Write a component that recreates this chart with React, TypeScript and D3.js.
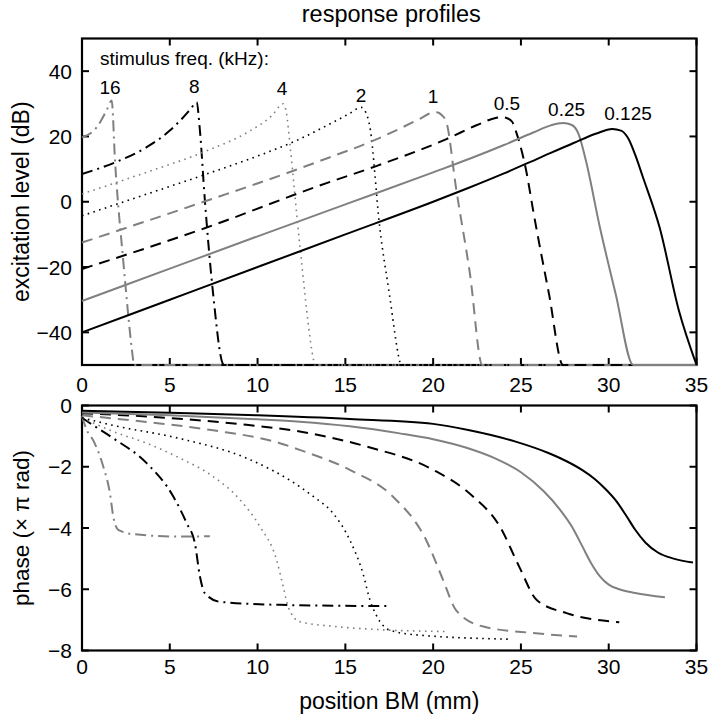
import React from "react";
import * as d3 from "d3";

// ---------- data ----------
const freqLabels = ["16", "8", "4", "2", "1", "0.5", "0.25", "0.125"];
const seriesColor = ["gray", "black", "gray", "black", "gray", "black", "gray", "black"];
const seriesStyle = ["dashdot", "dashdot", "dotted", "dotted", "dashed", "dashed", "solid", "solid"];

// excitation level (dB) vs position (mm)
const exc16: [number, number][] = [[0, 19.7], [0.84, 22.8], [1.4, 28], [1.69, 31], [1.88, 12.6], [2.35, -18.1], [2.92, -48.8], [2.95, -50], [35, -50]];
const exc8: [number, number][] = [[0, 8.5], [2, 12.3], [3.68, 16.7], [5.0, 21.8], [5.58, 24.8], [6.2, 28.5], [6.53, 30.5], [6.7, 22.8], [7.0, 0.3], [7.47, -28.3], [8.04, -49.8], [8.1, -50], [35, -50]];
const exc4: [number, number][] = [[0, 2.4], [3.5, 8.7], [7.1, 15.6], [9.5, 21.5], [10.8, 26.3], [11.46, 30.0], [11.65, 27], [11.84, 17.7], [12.4, -13], [13.2, -48.8], [13.25, -50], [35, -50]];
const exc2: [number, number][] = [[0, -4.3], [3.5, 2], [7.1, 8.5], [10, 14], [12.4, 19.2], [14, 23.5], [15.2, 26.9], [15.9, 28.9], [16.15, 27.5], [16.4, 22.8], [16.96, -7.9], [17.5, -28], [18.1, -49], [18.15, -50], [35, -50]];
const exc1: [number, number][] = [[0, -12.5], [7.1, 0.3], [12.4, 10.2], [13.5, 12.4], [16.8, 19.2], [19.2, 25.3], [19.9, 27.2], [20.2, 27.4], [20.5, 26.5], [20.76, 24.3], [21.3, 4.4], [22.1, -22.2], [22.8, -50], [35, -50]];
const exc05: [number, number][] = [[0, -20.6], [7.1, -7.9], [13.5, 4.9], [16.8, 11], [20.76, 19.2], [22.5, 23.5], [23.5, 25.6], [23.9, 25.9], [24.2, 25.6], [24.5, 24.5], [24.75, 21], [25.3, 9.5], [25.7, -2.8], [26.6, -28.3], [27.4, -50], [35, -50]];
const exc025: [number, number][] = [[0, -30.4], [5, -20.5], [10, -10.6], [15, -0.8], [20, 9], [22, 13], [24, 17.3], [25.7, 21.2], [26.7, 23.4], [27.4, 24.1], [27.9, 23.5], [28.3, 20.5], [28.7, 12.6], [29.5, -7.9], [30.4, -28.3], [31.4, -50], [35, -50]];
const exc0125: [number, number][] = [[0, -40], [5, -30], [10, -20], [15, -10], [20, 0], [22, 4.2], [24, 8.6], [26, 13.3], [28, 18.0], [29.3, 20.9], [30.2, 22.3], [30.7, 21.8], [31.1, 19.5], [31.5, 14.5], [31.95, 7.5], [32.9, -7.9], [34.0, -33.4], [35, -50]];

// phase (x pi rad) vs position (mm)
const ph16: [number, number][] = [[0, -0.35], [0.27, -0.8], [0.64, -1.14], [1.21, -1.99], [1.59, -2.86], [1.78, -3.62], [2.07, -4.06], [2.92, -4.2], [5.58, -4.28], [7.28, -4.27]];
const ph8: [number, number][] = [[0, -0.4], [0.46, -0.58], [1.78, -1.07], [3.68, -1.88], [5.2, -2.97], [5.96, -3.84], [6.43, -4.5], [6.72, -5.59], [7.0, -6.13], [7.85, -6.41], [11.27, -6.51], [17.34, -6.55]];
const ph4: [number, number][] = [[0, -0.4], [1.78, -0.85], [3.68, -1.23], [5.58, -1.72], [7.47, -2.32], [9.0, -3.08], [10.13, -3.95], [11.08, -5.04], [11.46, -5.91], [11.74, -6.57], [12.4, -7.06], [14.3, -7.21], [16.96, -7.32], [20.76, -7.38]];
const ph2: [number, number][] = [[0, -0.4], [1.78, -0.65], [5.58, -1.08], [9.37, -1.72], [12.4, -2.65], [13.17, -2.97], [14.3, -3.52], [15.25, -4.39], [16.0, -5.48], [16.4, -6.35], [16.8, -6.89], [17.5, -7.33], [19.05, -7.49], [24.36, -7.63]];
const ph1: [number, number][] = [[0, -0.32], [3.68, -0.54], [7.47, -0.81], [11.27, -1.23], [12.4, -1.45], [15.25, -2.1], [17.7, -2.97], [19.6, -4.39], [20.57, -5.7], [21.3, -6.68], [22.8, -7.21], [25.7, -7.43], [28.2, -7.54]];
const ph05: [number, number][] = [[0, -0.25], [3.68, -0.36], [9.37, -0.63], [12.4, -0.85], [16.2, -1.34], [20, -2.1], [22.27, -2.97], [23.8, -3.95], [24.9, -5.26], [25.9, -6.35], [27.6, -6.78], [30.05, -7.05], [30.6, -7.08]];
const ph025: [number, number][] = [[0, -0.23], [5, -0.32], [10, -0.45], [12.4, -0.53], [15.25, -0.68], [18.1, -0.91], [20, -1.1], [21.9, -1.38], [23.5, -1.72], [25, -2.18], [26.3, -2.8], [27.2, -3.38], [27.9, -3.95], [28.5, -4.6], [29.0, -5.15], [29.5, -5.58], [30.0, -5.85], [30.6, -6.0], [31.5, -6.12], [33.2, -6.26]];
const ph0125: [number, number][] = [[0, -0.17], [5, -0.24], [10, -0.32], [15.25, -0.44], [20, -0.6], [22, -0.8], [24.7, -1.18], [26.6, -1.56], [27.6, -1.82], [28.5, -2.11], [29.2, -2.4], [29.8, -2.72], [30.4, -3.1], [31.0, -3.6], [31.5, -4.05], [32.1, -4.48], [32.8, -4.8], [33.7, -5.0], [34.8, -5.13]];

const excSeries = [exc16, exc8, exc4, exc2, exc1, exc05, exc025, exc0125];
const phaseSeries = [ph16, ph8, ph4, ph2, ph1, ph05, ph025, ph0125];

// label anchor positions (data coords: mm, dB)
const labelX = [1.6, 6.4, 11.4, 15.9, 20.0, 24.2, 27.6, 31.1];
const labelY = [33, 33.2, 32.7, 30.7, 30.3, 28.2, 26.2, 25.0];

const xTicks = [0, 5, 10, 15, 20, 25, 30, 35];
const excTicks = [-40, -20, 0, 20, 40];
const phaseTicks = [-8, -6, -4, -2, 0];

const xDomain: [number, number] = [0, 35];
const excDomain: [number, number] = [-50, 50];
const phaseDomain: [number, number] = [-8, 0];

// ---------- layout ----------
const W = 709, H = 717;
const L = 82, R = 696.5;
const T1 = 38.5, B1 = 365;
const T2 = 405.5, B2 = 650.5;
const FONT = "'Liberation Sans', Arial, Helvetica, sans-serif";
const GRAY = "#808080";

function styleOf(i: number) {
  const color = seriesColor[i] === "gray" ? GRAY : "#000";
  const s = seriesStyle[i];
  let dash = "none";
  let width = 2;
  if (s === "dashed") dash = "11 7";
  if (s === "dotted") { dash = "1.6 4.4"; width = 1.6; }
  if (s === "dashdot") dash = "11 5 2 5";
  return { color, dash, width };
}

const fmt = (v: number) => (v < 0 ? "\u2212" + Math.abs(v) : String(v));

export default function App() {
  const x = d3.scaleLinear().domain(xDomain).range([L, R]);
  const y1 = d3.scaleLinear().domain(excDomain).range([B1, T1]);
  const y2 = d3.scaleLinear().domain(phaseDomain).range([B2, T2]);
  const line1 = d3.line<[number, number]>().x((d) => x(d[0])).y((d) => y1(d[1])).curve(d3.curveMonotoneX);
  const line2 = d3.line<[number, number]>().x((d) => x(d[0])).y((d) => y2(d[1])).curve(d3.curveMonotoneX);
  const tickLen = 7;

  const panel = (
    top: number,
    bottom: number,
    ys: d3.ScaleLinear<number, number>,
    yt: number[],
    xLabelBaseline: number,
    key: string
  ) => (
    <g key={key}>
      <rect x={L} y={top} width={R - L} height={bottom - top} fill="none" stroke="#000" strokeWidth={2.2} />
      {xTicks.map((t) => (
        <g key={"xt" + t}>
          <line x1={x(t)} x2={x(t)} y1={bottom} y2={bottom - tickLen} stroke="#000" strokeWidth={2} />
          <line x1={x(t)} x2={x(t)} y1={top} y2={top + tickLen} stroke="#000" strokeWidth={2} />
          <text x={x(t)} y={xLabelBaseline} textAnchor="middle" fontSize={21} fontFamily={FONT} fill="#000">
            {fmt(t)}
          </text>
        </g>
      ))}
      {yt.map((t) => (
        <g key={"yt" + t}>
          <line x1={L} x2={L + tickLen} y1={ys(t)} y2={ys(t)} stroke="#000" strokeWidth={2} />
          <line x1={R} x2={R - tickLen} y1={ys(t)} y2={ys(t)} stroke="#000" strokeWidth={2} />
          <text x={72} y={ys(t)} dy="0.36em" textAnchor="end" fontSize={21} fontFamily={FONT} fill="#000">
            {fmt(t)}
          </text>
        </g>
      ))}
    </g>
  );

  return (
    <svg width={W} height={H} style={{ display: "block", position: "absolute", left: 0, top: 0 }}>
      <rect width={W} height={H} fill="#fff" />
      {panel(T1, B1, y1, excTicks, 392, "p1")}
      {panel(T2, B2, y2, phaseTicks, 674, "p2")}

      {excSeries.map((s, i) => {
        const st = styleOf(i);
        return (
          <path key={"e" + i} d={line1(s) || ""} fill="none" stroke={st.color} strokeWidth={st.width} strokeDasharray={st.dash} strokeLinejoin="round" />
        );
      })}
      {phaseSeries.map((s, i) => {
        const st = styleOf(i);
        return (
          <path key={"p" + i} d={line2(s) || ""} fill="none" stroke={st.color} strokeWidth={st.width} strokeDasharray={st.dash} strokeLinejoin="round" />
        );
      })}

      {freqLabels.map((f, i) => (
        <text key={"fl" + i} x={x(labelX[i])} y={y1(labelY[i])} textAnchor="middle" fontSize={19} fontFamily={FONT} fill="#000">
          {f}
        </text>
      ))}
      <text x={100} y={64.5} fontSize={19} fontFamily={FONT} fill="#000">stimulus freq. (kHz):</text>

      <text x={(L + R) / 2 + 2} y={21.5} textAnchor="middle" fontSize={23.5} fontFamily={FONT} fill="#000">response profiles</text>
      <text x={(L + R) / 2} y={708.5} textAnchor="middle" fontSize={23} fontFamily={FONT} fill="#000">position BM (mm)</text>
      <text transform={`translate(28.5, ${(T1 + B1) / 2}) rotate(-90)`} textAnchor="middle" fontSize={23} fontFamily={FONT} fill="#000">excitation level (dB)</text>
      <text transform={`translate(28.5, ${(T2 + B2) / 2}) rotate(-90)`} textAnchor="middle" fontSize={22.5} fontFamily={FONT} fill="#000">phase (× π rad)</text>
    </svg>
  );
}
